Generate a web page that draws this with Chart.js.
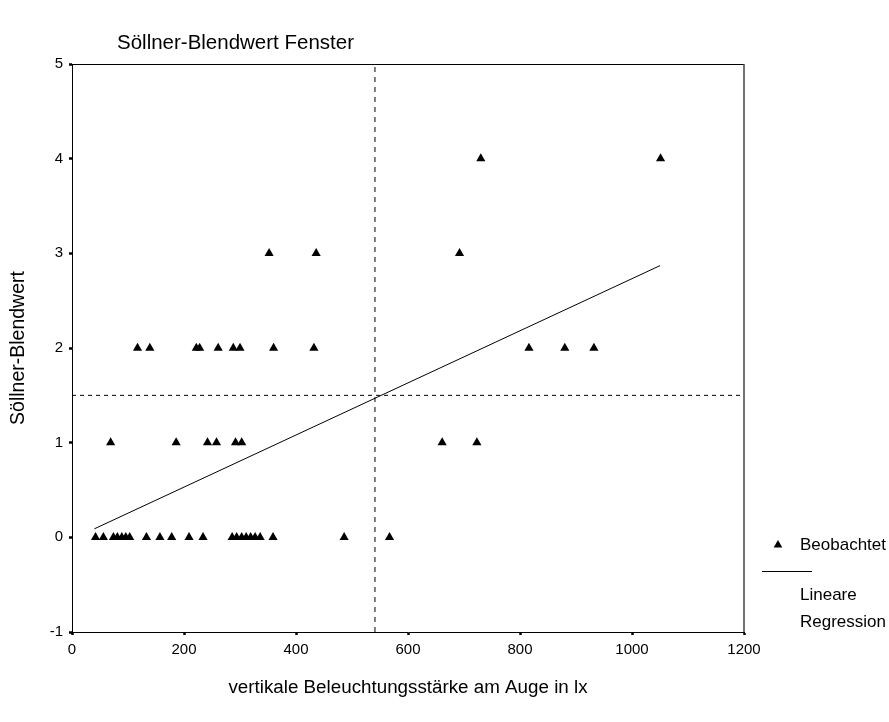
<!DOCTYPE html>
<html>
<head>
<meta charset="utf-8">
<script src="https://cdn.jsdelivr.net/npm/chart.js@4/dist/chart.umd.min.js"></script>
<style>
  html, body { margin: 0; padding: 0; background: #ffffff; }
  #wrap { width: 889px; height: 722px; }
</style>
</head>
<body>
<div id="wrap"><canvas id="c" width="889" height="722"></canvas></div>
<script>
// ---- data ----
const chartTitle = "Söllner-Blendwert Fenster";
const xAxisLabel = "vertikale Beleuchtungsstärke am Auge in lx";
const yAxisLabel = "Söllner-Blendwert";
const legendObserved = "Beobachtet";
const legendRegression = ["Lineare", "Regression"];

// observed points (illuminance in lx, glare value)
const obsX = [42, 56, 74, 81, 89, 96, 103, 133, 157, 178, 209, 234, 286, 294, 303, 311, 319, 327, 336, 359, 486, 567,
              69, 186, 242, 258, 292, 303, 661, 723,
              117, 139, 222, 228, 261, 288, 300, 360, 432, 816, 880, 932,
              352, 436, 692,
              730, 1051];
const obsY = [0, 0, 0, 0, 0, 0, 0, 0, 0, 0, 0, 0, 0, 0, 0, 0, 0, 0, 0, 0, 0, 0,
              1, 1, 1, 1, 1, 1, 1, 1,
              2, 2, 2, 2, 2, 2, 2, 2, 2, 2, 2, 2,
              3, 3, 3,
              4, 4];

// linear regression line end points
const regX = [40, 1050];
const regY = [0.09, 2.87];

// reference (mean) lines
const meanX = 541;
const meanY = 1.5;

// axis ranges / ticks
const xTicks = [0, 200, 400, 600, 800, 1000, 1200];
const yTicks = [-1, 0, 1, 2, 3, 4, 5];

// ---- build ----
const FONT = "'Liberation Sans', Arial, Helvetica, sans-serif";
const observed = obsX.map((x, i) => ({ x: x, y: obsY[i] }));
const regression = regX.map((x, i) => ({ x: x, y: regY[i] }));
const xMin = xTicks[0], xMax = xTicks[xTicks.length - 1];
const yMin = yTicks[0], yMax = yTicks[yTicks.length - 1];

const decorPlugin = {
  id: 'decor',
  afterDraw(chart) {
    const ctx = chart.ctx;
    const a = chart.chartArea;
    ctx.save();
    // frame
    ctx.strokeStyle = '#000';
    ctx.lineWidth = 1;
    ctx.beginPath();
    ctx.moveTo(a.left, a.top + 0.5);
    ctx.lineTo(a.right, a.top + 0.5);
    ctx.stroke();
    ctx.strokeStyle = '#444';
    ctx.lineWidth = 1.5;
    ctx.beginPath();
    ctx.moveTo(a.right, a.top);
    ctx.lineTo(a.right, a.bottom);
    ctx.stroke();

    ctx.fillStyle = '#000';
    // title
    ctx.font = "20.5px " + FONT;
    ctx.textAlign = 'left';
    ctx.textBaseline = 'middle';
    ctx.fillText(chartTitle, 117, 43);
    // x axis label
    ctx.font = "18.8px " + FONT;
    ctx.textAlign = 'center';
    ctx.fillText(xAxisLabel, 408, 688);
    // y axis label
    ctx.save();
    ctx.translate(19, (a.top + a.bottom) / 2);
    ctx.rotate(-Math.PI / 2);
    ctx.font = "19.5px " + FONT;
    ctx.fillText(yAxisLabel, 0, 0);
    ctx.restore();

    // legend
    const lx = 778, ly = 545, r = 5;
    ctx.beginPath();
    ctx.moveTo(lx, ly - r);
    ctx.lineTo(lx + r * 0.866, ly + r * 0.5);
    ctx.lineTo(lx - r * 0.866, ly + r * 0.5);
    ctx.closePath();
    ctx.fill();
    ctx.font = "17px " + FONT;
    ctx.textAlign = 'left';
    ctx.fillText(legendObserved, 800, ly);
    ctx.strokeStyle = '#000';
    ctx.lineWidth = 1;
    ctx.beginPath();
    ctx.moveTo(762, 571.5);
    ctx.lineTo(812, 571.5);
    ctx.stroke();
    ctx.fillText(legendRegression[0], 800, 595);
    ctx.fillText(legendRegression[1], 800, 622);
    ctx.restore();
  }
};

new Chart(document.getElementById('c'), {
  type: 'scatter',
  data: {
    datasets: [
      {
        label: legendObserved,
        data: observed,
        pointStyle: 'triangle',
        pointRadius: 5.3,
        pointHoverRadius: 5.3,
        backgroundColor: '#000',
        borderColor: '#000',
        borderWidth: 0,
        order: 1
      },
      {
        label: 'Lineare Regression',
        type: 'line',
        data: regression,
        borderColor: '#000',
        borderWidth: 1,
        pointRadius: 0,
        fill: false,
        tension: 0,
        order: 2
      },
      {
        label: 'meanX',
        type: 'line',
        data: [{ x: meanX, y: yMin }, { x: meanX, y: yMax }],
        borderColor: '#000',
        borderWidth: 1,
        borderDash: [5, 5],
        pointRadius: 0,
        fill: false,
        order: 3
      },
      {
        label: 'meanY',
        type: 'line',
        data: [{ x: xMin, y: meanY }, { x: xMax, y: meanY }],
        borderColor: '#000',
        borderWidth: 1,
        borderDash: [4, 4],
        pointRadius: 0,
        fill: false,
        order: 3
      }
    ]
  },
  options: {
    responsive: false,
    animation: false,
    devicePixelRatio: 1,
    layout: { padding: { left: 0, top: 64, right: 145, bottom: 0 } },
    plugins: {
      legend: { display: false },
      title: { display: false },
      tooltip: { enabled: false }
    },
    scales: {
      x: {
        type: 'linear',
        min: xMin,
        max: xMax,
        afterBuildTicks(scale) { scale.ticks = xTicks.map(v => ({ value: v })); },
        afterFit(scale) { scale.height = 90; },
        ticks: { color: '#000', font: { family: FONT, size: 15 }, padding: 6, maxRotation: 0,
                 callback: (v) => String(v) },
        grid: { drawOnChartArea: false, drawTicks: true, tickLength: 3, tickWidth: 2.5, tickColor: '#000' },
        border: { display: true, color: '#000', width: 1 }
      },
      y: {
        type: 'linear',
        min: yMin,
        max: yMax,
        afterBuildTicks(scale) { scale.ticks = yTicks.map(v => ({ value: v })); },
        afterFit(scale) { scale.width = 72; },
        ticks: { color: '#000', font: { family: FONT, size: 15 }, padding: 6,
                 callback: (v) => String(v) },
        grid: { drawOnChartArea: false, drawTicks: true, tickLength: 3, tickWidth: 2.5, tickColor: '#000' },
        border: { display: true, color: '#000', width: 1 }
      }
    }
  },
  plugins: [decorPlugin]
});
</script>
</body>
</html>
